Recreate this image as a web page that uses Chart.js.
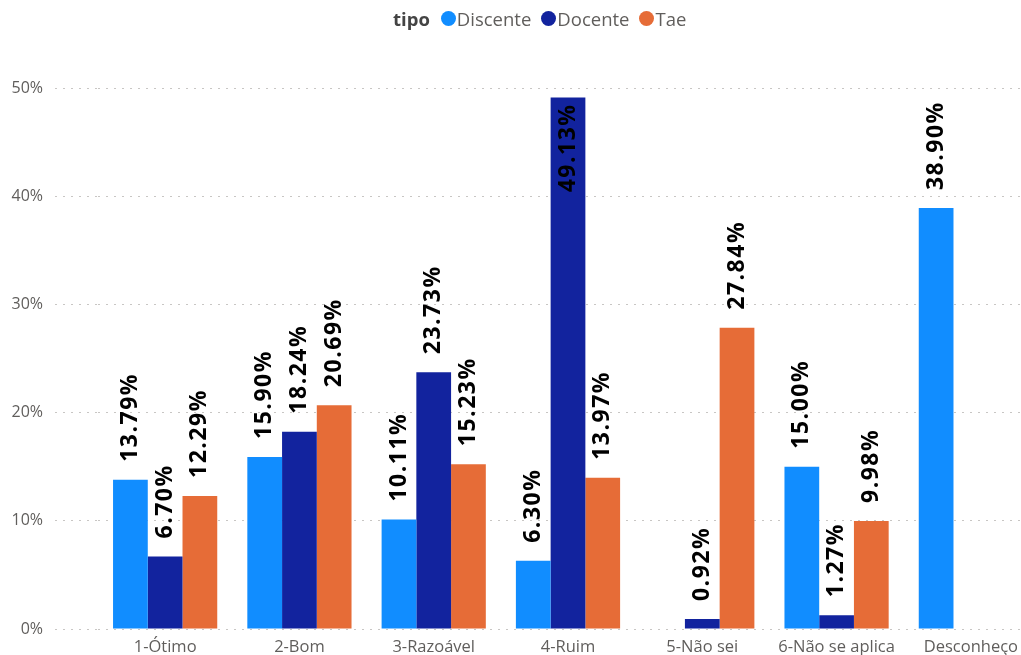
<!DOCTYPE html>
<html>
<head>
<meta charset="utf-8">
<script src="https://cdn.jsdelivr.net/npm/chart.js@4.4.1/dist/chart.umd.min.js"></script>
<style>
    body { margin: 0; background: #fff; overflow: hidden; font-family: "Open Sans", sans-serif; }
    #wrap { position: relative; width: 1021px; height: 655px; overflow: hidden; }
    #box { position: absolute; left: 0; top: 0; width: 1040px; height: 655px; }
    #legend { position: absolute; top: 6px; left: 393px; display: flex; align-items: center; font-size: 18.5px; color: #605E5C; white-space: nowrap; }
    #legend b { color: #444; margin-right: 11px; }
    #legend .it { display: flex; align-items: center; margin-right: 10px; }
    #legend .dot { width: 15px; height: 15px; border-radius: 50%; margin-right: 1px; }
</style>
</head>
<body>
<div id="wrap">
    <div id="box"><canvas id="chart"></canvas></div>
    <div id="legend"></div>
</div>
<script>
// categorias e valores (%)
const categorias = ['1-Ótimo', '2-Bom', '3-Razoável', '4-Ruim', '5-Não sei', '6-Não se aplica', 'Desconheço'];
const discente = [13.79, 15.90, 10.11, 6.30, null, 15.00, 38.90];
const docente = [6.70, 18.24, 23.73, 49.13, 0.92, 1.27, null];
const tae = [12.29, 20.69, 15.23, 13.97, 27.84, 9.98, null];
const yTicks = [0, 10, 20, 30, 40, 50];

const series = [
    { nome: 'Discente', dados: discente, cor: '#118DFF' },
    { nome: 'Docente', dados: docente, cor: '#12239E' },
    { nome: 'Tae', dados: tae, cor: '#E66C37' }
];

// legenda em HTML
const legend = document.getElementById('legend');
legend.innerHTML = '<b>tipo</b>' + series.map(s =>
    `<span class="it"><span class="dot" style="background:${s.cor}"></span>${s.nome}</span>`).join('');

// rótulos de dados girados
const rotulos = {
    id: 'rotulos',
    afterDatasetsDraw(chart) {
        const ctx = chart.ctx;
        const area = chart.chartArea;
        ctx.save();
        ctx.font = 'bold 23px "Open Sans", sans-serif';
        ctx.letterSpacing = '1.5px';
        ctx.fillStyle = '#000';
        ctx.textBaseline = 'middle';
        chart.data.datasets.forEach((ds, i) => {
            const meta = chart.getDatasetMeta(i);
            meta.data.forEach((bar, j) => {
                const v = ds.data[j];
                if (v === null || v === undefined) return;
                const txt = v.toFixed(2) + '%';
                const w = ctx.measureText(txt).width;
                const gap = 18;
                ctx.save();
                ctx.translate(bar.x, bar.y);
                ctx.rotate(-Math.PI / 2);
                if (bar.y - gap - w >= area.top) {
                    ctx.textAlign = 'left';
                    ctx.fillText(txt, gap, 0);
                } else {
                    ctx.textAlign = 'right';
                    ctx.fillText(txt, -6, 0);
                }
                ctx.restore();
            });
        });
        ctx.restore();
    }
};

new Chart(document.getElementById('chart'), {
    type: 'bar',
    data: {
        labels: categorias,
        datasets: series.map(s => ({
            label: s.nome,
            data: s.dados,
            backgroundColor: s.cor,
            categoryPercentage: 0.776,
            barPercentage: 1.0
        }))
    },
    options: {
        responsive: true,
        maintainAspectRatio: false,
        animation: false,
        layout: { padding: { top: 88, right: 2, left: 0, bottom: 0 } },
        plugins: {
            legend: { display: false },
            tooltip: { enabled: false }
        },
        scales: {
            x: {
                grid: { display: false },
                border: { display: false },
                ticks: { color: '#605E5C', font: { family: 'Open Sans', size: 16.5 }, padding: 0, maxRotation: 0, autoSkip: false },
                afterFit(axis) { axis.height = 26; }
            },
            y: {
                min: 0,
                max: 50,
                afterBuildTicks(axis) { axis.ticks = yTicks.map(v => ({ value: v })); },
                border: { display: false, dash: [2, 6] },
                grid: {
                    color: '#C8C6C4',
                    tickBorderDash: [2, 6],
                    tickColor: '#C8C6C4',
                    tickLength: 43,
                    drawTicks: true
                },
                ticks: {
                    color: '#605E5C',
                    font: { family: 'Open Sans', size: 16 },
                    padding: 12,
                    callback: v => v + '%'
                },
                afterFit(axis) { axis.width = 98; }
            }
        }
    },
    plugins: [rotulos]
});
</script>
</body>
</html>
